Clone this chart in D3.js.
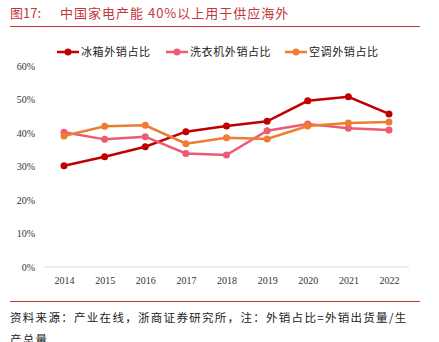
<!DOCTYPE html>
<html>
<head>
<meta charset="utf-8">
<script src="https://cdn.jsdelivr.net/npm/d3@7"></script>
<style>
  body { margin: 0; background: #fff; }
  text { font-family: "Noto Sans CJK SC", sans-serif; }
  .tick text { font-family: "Liberation Serif", serif; }
</style>
</head>
<body>
<svg id="chart" width="439" height="342"></svg>
<script>
  // Years on the x axis
  var years = ["2014", "2015", "2016", "2017", "2018", "2019", "2020", "2021", "2022"];

  // Export share per appliance (%)
  var fridge = [30.2, 32.9, 35.9, 40.4, 42.1, 43.5, 49.6, 50.8, 45.7];
  var washer = [40.2, 38.1, 38.9, 33.9, 33.4, 40.7, 42.7, 41.4, 40.9];
  var aircon = [39.1, 42.0, 42.3, 36.8, 38.6, 38.2, 42.1, 43.0, 43.3];

  var seriesNames = ["冰箱外销占比", "洗衣机外销占比", "空调外销占比"];
  var yTicks = [0, 10, 20, 30, 40, 50, 60];

  var COLORS = ["#C00000", "#EC5A73", "#ED7D31"];
  var RED = "#C4363B";

  var svg = d3.select("#chart");

  // Heading and rules
  svg.append("text")
    .attr("x", 10).attr("y", 18)
    .attr("fill", RED)
    .style("font-size", "13px")
    .text("图17:");
  svg.append("text")
    .attr("x", 60).attr("y", 18)
    .attr("fill", RED)
    .style("font-size", "13px")
    .style("letter-spacing", "1px")
    .text("中国家电产能 40%以上用于供应海外");
  svg.append("line")
    .attr("x1", 10).attr("x2", 420).attr("y1", 26.5).attr("y2", 26.5)
    .attr("stroke", RED).attr("stroke-width", 1);
  svg.append("line")
    .attr("x1", 10).attr("x2", 420).attr("y1", 301.5).attr("y2", 301.5)
    .attr("stroke", RED).attr("stroke-width", 1);
  svg.append("text")
    .attr("x", 10).attr("y", 322)
    .attr("fill", "#222")
    .style("font-size", "11.5px")
    .style("letter-spacing", "1.3px")
    .text("资料来源：产业在线，浙商证券研究所，注：外销占比=外销出货量/生");
  svg.append("text")
    .attr("x", 10).attr("y", 344)
    .attr("fill", "#222")
    .style("font-size", "11.5px")
    .style("letter-spacing", "1.3px")
    .text("产总量");

  // Scales
  var x = d3.scalePoint().domain(years).range([64, 389]);
  var y = d3.scaleLinear().domain([0, 60]).range([267, 66]);

  // Axes
  var xAxis = svg.append("g")
    .attr("transform", "translate(0,267)")
    .call(d3.axisBottom(x).tickSize(0).tickPadding(10));
  xAxis.select(".domain").remove();
  xAxis.append("line")
    .attr("x1", 44).attr("x2", 409)
    .attr("stroke", "#d9d9d9").attr("stroke-width", 1);
  xAxis.selectAll(".tick text")
    .attr("fill", "#333").style("font-size", "10px");

  var yAxis = svg.append("g")
    .attr("transform", "translate(35,0)")
    .call(d3.axisLeft(y).tickValues(yTicks).tickSize(0).tickPadding(0)
      .tickFormat(function (d) { return d + "%"; }));
  yAxis.select(".domain").remove();
  yAxis.selectAll(".tick text")
    .attr("fill", "#333").style("font-size", "10px");

  // Lines and markers
  var data = [fridge, washer, aircon];
  var line = d3.line()
    .x(function (d, i) { return x(years[i]); })
    .y(function (d) { return y(d); });

  data.forEach(function (vals, k) {
    var g = svg.append("g");
    g.append("path")
      .datum(vals)
      .attr("d", line)
      .attr("fill", "none")
      .attr("stroke", COLORS[k])
      .attr("stroke-width", 2.5);
    g.selectAll("circle")
      .data(vals)
      .enter().append("circle")
      .attr("cx", function (d, i) { return x(years[i]); })
      .attr("cy", function (d) { return y(d); })
      .attr("r", 3.5)
      .attr("fill", COLORS[k]);
  });

  // Legend
  var legendX = [57, 166, 285];
  seriesNames.forEach(function (name, k) {
    var lg = svg.append("g").attr("transform", "translate(" + legendX[k] + ",52)");
    lg.append("line")
      .attr("x1", 0).attr("x2", 22)
      .attr("stroke", COLORS[k]).attr("stroke-width", 2.5);
    lg.append("circle").attr("cx", 11).attr("r", 3.5).attr("fill", COLORS[k]);
    lg.append("text")
      .attr("x", 24).attr("y", 4)
      .attr("fill", "#222")
      .style("font-size", "11px")
      .style("letter-spacing", "0.6px")
      .text(name);
  });
</script>
</body>
</html>
